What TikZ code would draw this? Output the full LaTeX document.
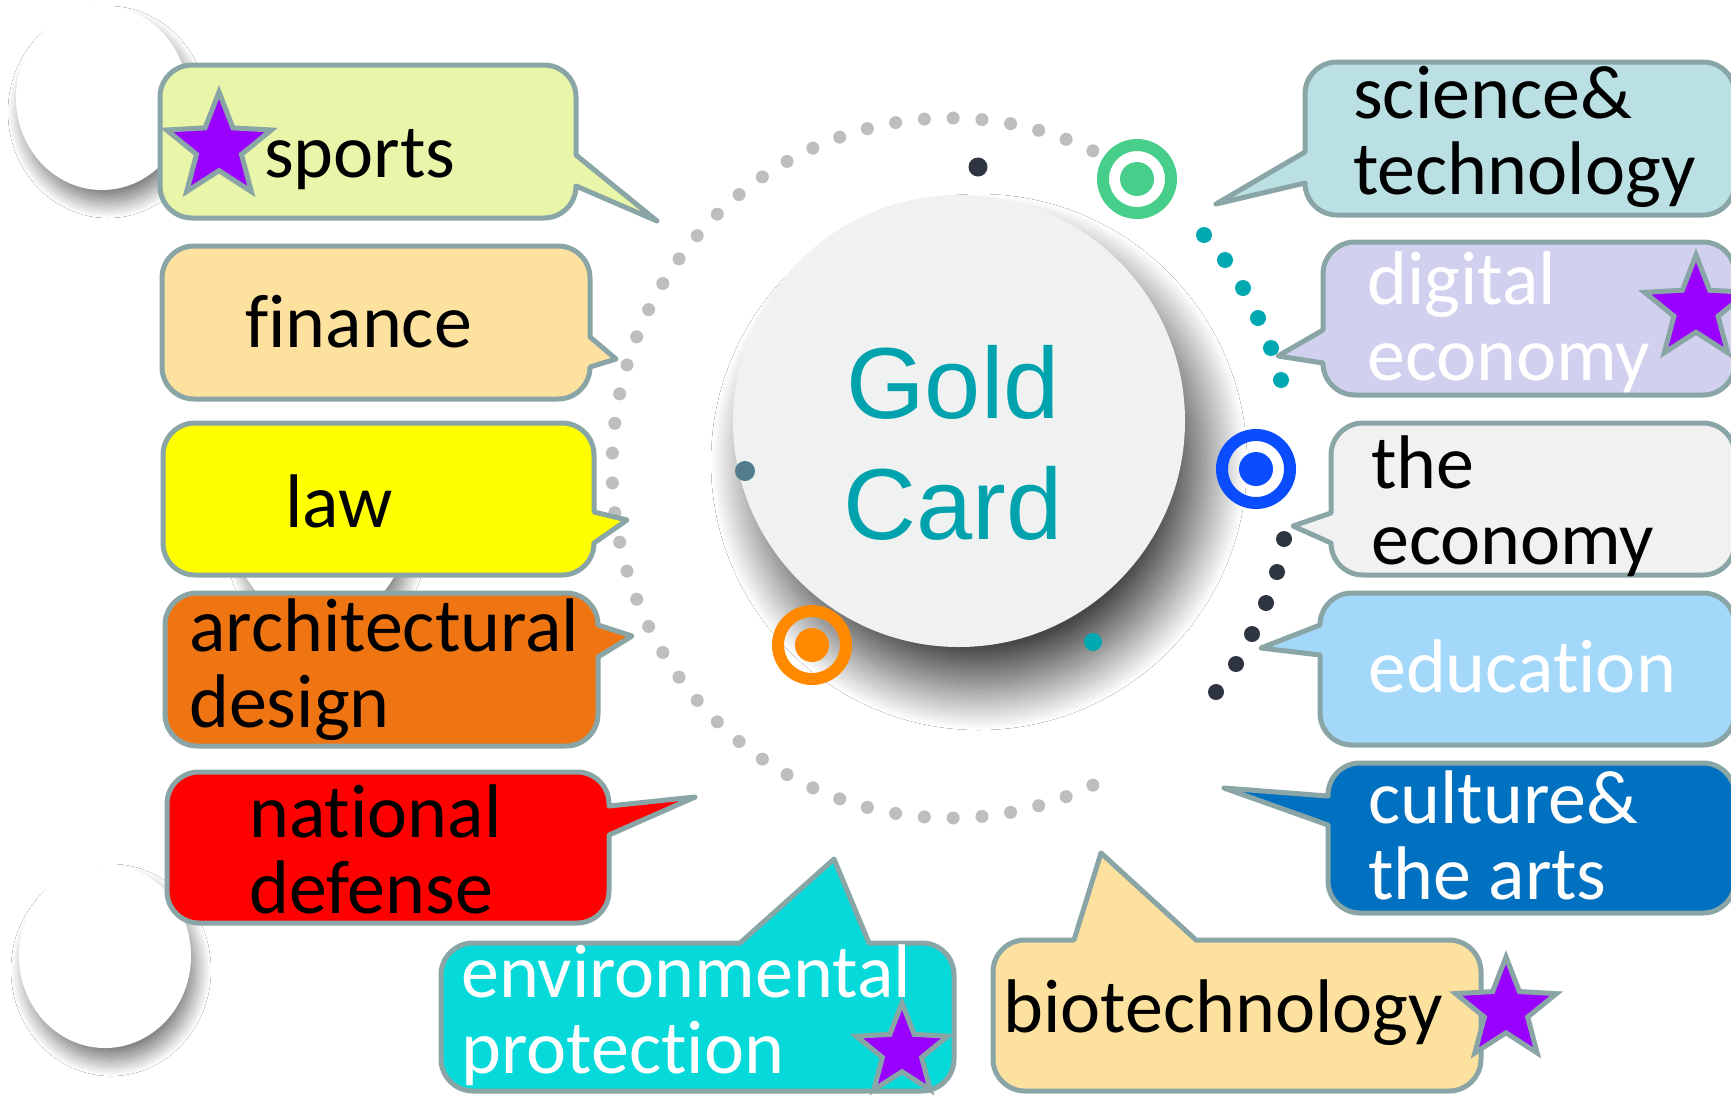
\documentclass[tikz,border=0pt]{standalone}
\usepackage{fontspec}
\setmainfont{Carlito}[Ligatures=NoCommon]
\newfontfamily\goldfont{Liberation Sans}
\usetikzlibrary{shadows.blur}
\definecolor{bordc}{HTML}{8AA5A6}
\definecolor{csports}{HTML}{E9F5A9}
\definecolor{cfin}{HTML}{FCE19F}
\definecolor{claw}{HTML}{FFFF00}
\definecolor{carch}{HTML}{EF7512}
\definecolor{cnat}{HTML}{FF0000}
\definecolor{cenv}{HTML}{05D9D9}
\definecolor{csci}{HTML}{BAE0E3}
\definecolor{cdig}{HTML}{D1D1EF}
\definecolor{ceco}{HTML}{F1F1F1}
\definecolor{cedu}{HTML}{A3D8FB}
\definecolor{ccul}{HTML}{0070C0}
\definecolor{cstar}{HTML}{9900FF}
\definecolor{cgold}{HTML}{00A3AD}
\definecolor{cdisc}{HTML}{F0F2F1}
\definecolor{cdot}{HTML}{BDBEC0}
\definecolor{cteal}{HTML}{00A8B0}
\definecolor{cdark}{HTML}{2E3440}
\definecolor{cslate}{HTML}{527B8C}
\definecolor{cgreen}{HTML}{48CE8B}
\definecolor{cblue}{HTML}{0A4DFF}
\definecolor{corange}{HTML}{FF8A00}

\newcommand\bubR[9]{%
 \draw[bubble,fill=#9] ({#1+32},#2) -- ({#3-32},#2) arc[start angle=-90,end angle=0,radius=32]
  -- (#3,#5) -- (#6,#7) -- (#3,#8) -- (#3,{#4-32}) arc[start angle=0,end angle=90,radius=32]
  -- ({#1+32},#4) arc[start angle=90,end angle=180,radius=32]
  -- (#1,{#2+32}) arc[start angle=180,end angle=270,radius=32] -- cycle;}
\newcommand\bubL[9]{%
 \draw[bubble,fill=#9] ({#1+32},#2) -- ({#3-32},#2) arc[start angle=-90,end angle=0,radius=32]
  -- (#3,{#4-32}) arc[start angle=0,end angle=90,radius=32]
  -- ({#1+32},#4) arc[start angle=90,end angle=180,radius=32]
  -- (#1,#8) -- (#6,#7) -- (#1,#5)
  -- (#1,{#2+32}) arc[start angle=180,end angle=270,radius=32] -- cycle;}
\newcommand\bubT[9]{%
 \draw[bubble,fill=#9] ({#1+32},#2) -- (#5,#2) -- (#6,#7) -- (#8,#2)
  -- ({#3-32},#2) arc[start angle=-90,end angle=0,radius=32]
  -- (#3,{#4-32}) arc[start angle=0,end angle=90,radius=32]
  -- ({#1+32},#4) arc[start angle=90,end angle=180,radius=32]
  -- (#1,{#2+32}) arc[start angle=180,end angle=270,radius=32] -- cycle;}

\tikzset{
  bubble/.style={draw=bordc,line width=5pt,line join=round},
  lbl/.style={anchor=base west,inner sep=0pt,text=black,font=\fontsize{76}{76}\selectfont},
  wlbl/.style={lbl,text=white},
  starsty/.style={fill=cstar,draw=bordc,line width=5pt,line join=miter},
  pics/pstar/.style={code={\draw[starsty] plot[samples at={0,...,9}]
      ({\x*36-90}:{ifthenelse(mod(\x,2)==0,#1,0.43*#1)}) -- cycle;}},
  pics/target/.style={code={\draw[line width=12pt,draw=#1] (0,0) circle (34);
      \fill[#1] (0,0) circle (17);}},
  wdisc/.style={fill=white},
  dshadow/.style={blur shadow={shadow xshift=0pt,shadow yshift=0pt,shadow blur radius=16pt,
      shadow blur steps=30,shadow opacity=55}},
}

\begin{document}
\begin{tikzpicture}[x=1pt,y=-1pt]
\useasboundingbox (0,0) rectangle (1731,1096);
\fill[white] (0,0) rectangle (1731,1096);

% white discs with shadows
\path[dshadow] (108,112) ellipse [x radius=84, y radius=90];
\fill[wdisc] (102,98) ellipse [x radius=86, y radius=92];
\path[dshadow] (111,970) ellipse [x radius=84, y radius=90];
\fill[wdisc] (105,956) ellipse [x radius=86, y radius=92];
\path[dshadow] (326,544) ellipse [x radius=84, y radius=90];
\fill[wdisc] (320,530) ellipse [x radius=86, y radius=92];

% dotted arc
\foreach \k in {0,...,47}{\pgfmathsetmacro\ang{65+\k*230/47}
  \fill[cdot] ({950+338*cos(\ang)},{468-350*sin(\ang)}) circle (6.5);}

% central disc
\path[blur shadow={shadow xshift=0pt,shadow yshift=0pt,shadow blur radius=42pt,
   shadow blur steps=60,shadow opacity=72}] (979,462) circle (226);
\node[circle,fill=cdisc,minimum size=452pt,inner sep=0pt] (disc) at (959,421) {};
\node[anchor=base,inner sep=0pt,text=cgold,font=\goldfont\fontsize{101}{121}\selectfont] (gc) at (953,418)
  {\parbox[t]{500pt}{\centering Gold\\Card}};

% small dots
\foreach \p in {(1204,235),(1225,260),(1243,288),(1258,318),(1271,348),(1281,380)}
  \fill[cteal] \p circle (8);
\foreach \p in {(1284,539),(1277,572),(1266,603),(1252,634),(1236,664),(1216,692)}
  \fill[cdark] \p circle (8);
\fill[cdark] (978,167) circle (9.5);
\fill[cslate] (745,471) circle (10);
\fill[cteal] (1093,642) circle (9);

% targets
\pic at (1137,179) {target=cgreen};
\pic at (1256,469) {target=cblue};
\pic at (812,645) {target=corange};

% bubbles left
\bubR{160}{65}{576}{218}{155}{657}{221}{186}{csports}
\bubR{162}{246}{590}{399}{337}{616}{359}{367}{cfin}
\bubR{163}{423}{594}{575}{512}{627}{520}{543}{claw}
\bubR{165}{593}{598}{746}{625}{632}{636}{657}{carch}
\bubR{167}{772}{609}{923}{806}{695}{797}{835}{cnat}
% bubbles right
\bubL{1305}{62}{1735}{215}{152}{1216}{204}{183}{csci}
\bubL{1323}{242}{1735}{395}{330}{1278}{356}{363}{cdig}
\bubL{1331}{423}{1735}{575}{513}{1293}{526}{543}{ceco}
\bubL{1320}{593}{1735}{745}{625}{1261}{648}{655}{cedu}
\bubL{1328}{763}{1735}{913}{796}{1224}{788}{825}{ccul}
% bubbles bottom
\bubT{441}{943}{954}{1091}{740}{834}{859}{869}{cenv}
\bubT{993}{940}{1481}{1091}{1074}{1101}{853}{1196}{cfin}

% labels
\node[lbl] (tsports) at (264,177) {sports};
\node[lbl] (tfin) at (245,347) {finance};
\node[lbl] (tlaw) at (285,527) {law};
\node[lbl] (tarch) at (189,651) {\parbox[t]{600pt}{architectural\\design}};
\node[lbl] (tnat) at (249,837) {\parbox[t]{600pt}{national\\defense}};
\node[wlbl] (tenv) at (461,997) {\parbox[t]{600pt}{environmental\\protection}};
\node[lbl] (tbio) at (1003,1032) {biotechnology};
\node[lbl] (tsci) at (1353,118) {\parbox[t]{600pt}{science\&\\technology}};
\node[wlbl] (tdig) at (1367,304) {\parbox[t]{600pt}{digital\\economy}};
\node[lbl] (teco) at (1371,488) {\parbox[t]{600pt}{the\\economy}};
\node[wlbl] (tedu) at (1368,692) {education};
\node[wlbl] (tcul) at (1368,823) {\parbox[t]{600pt}{culture\&\\the arts}};

% stars
\pic at (219,147) {pstar=55};
\pic at (1696,309) {pstar=54};
\pic at (902,1051) {pstar=48};
\pic at (1506,1010) {pstar=53};
\end{tikzpicture}
\end{document}
